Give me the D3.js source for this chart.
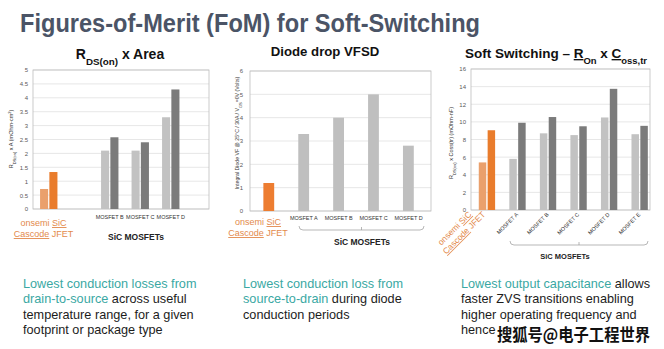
<!DOCTYPE html>
<html><head><meta charset="utf-8">
<script src="https://cdn.jsdelivr.net/npm/d3@7"></script>
<style>
html,body{margin:0;padding:0;background:#fff;}
svg{display:block;font-family:"Liberation Sans",Arial,sans-serif;}
</style></head>
<body><svg id="c" width="664" height="349"></svg>
<script>
// ---------- data ----------
const mainTitle = "Figures-of-Merit (FoM) for Soft-Switching";

const rdsCategories = ["onsemi", "MOSFET A", "MOSFET B", "MOSFET C", "MOSFET D", "MOSFET E"];
const rdsLight = [0.72, null, 2.1, 2.1, 3.3, null];
const rdsDark  = [1.33, null, 2.58, 2.4, 4.3, null];
const rdsTicks = [0, 0.5, 1, 1.5, 2, 2.5, 3, 3.5, 4, 4.5, 5];

const vfCategories = ["onsemi", "MOSFET A", "MOSFET B", "MOSFET C", "MOSFET D"];
const vfValues = [1.2, 3.3, 4.0, 5.0, 2.8];
const vfTicks = [0, 1, 2, 3, 4, 5, 6];

const ssCategories = ["onsemi", "MOSFET A", "MOSFET B", "MOSFET C", "MOSFET D", "MOSFET E"];
const ssLight = [5.4, 5.8, 8.7, 8.5, 10.5, 8.6];
const ssDark  = [9.05, 9.9, 10.55, 9.5, 13.75, 9.55];
const ssTicks = [0, 2, 4, 6, 8, 10, 12, 14, 16];

const groupLabel = "SiC MOSFETs";
const onsemiLine1 = ["onsemi ", "SiC"];
const onsemiLine2 = ["Cascode", " JFET"];

const col1Lines = [[["Lowest conduction losses from", 1]],
                   [["drain-to-source", 1], [" across useful", 0]],
                   [["temperature range, for a given", 0]],
                   [["footprint or package type", 0]]];
const col2Lines = [[["Lowest conduction loss from", 1]],
                   [["source-to-drain", 1], [" during diode", 0]],
                   [["conduction periods", 0]]];
const col3Lines = [[["Lowest output capacitance", 1], [" allows", 0]],
                   [["faster ZVS transitions enabling", 0]],
                   [["higher operating frequency and", 0]],
                   [["hence", 0]]];
const watermark = "搜狐号@电子工程世界";

// ---------- styles ----------
const C = {
  orangeL: "#eaa06c", orangeD: "#e97c2c", orange1: "#ed7d31",
  greyL: "#c2c2c2", greyD: "#7b7b7b", grey1: "#bfbfbf",
  grid: "#dcdcdc", frame: "#bdbdbd", tick: "#595959",
  label: "#e38a4c", teal: "#3aa8a3", text: "#1c1c1c", title: "#4b5466"
};

const svg = d3.select("#c");

// main title
svg.append("text").attr("x", 20).attr("y", 32)
  .attr("font-size", 26).attr("font-weight", "bold").attr("fill", C.title)
  .attr("textLength", 460).attr("lengthAdjust", "spacingAndGlyphs")
  .text(mainTitle);

function richTitle(parts, x, y, size) {
  const t = svg.append("text").attr("x", x).attr("y", y).attr("text-anchor", "middle")
    .attr("font-size", size).attr("font-weight", "bold").attr("fill", "#111");
  parts.forEach(p => {
    const s = t.append("tspan").text(p[0]);
    if (p[1] === "sub") s.attr("font-size", size * 0.7).attr("baseline-shift", "sub");
    if (p[2]) s.attr("text-decoration", "underline");
  });
  return t;
}

function drawChart(o) {
  const g = svg.append("g");
  const x = d3.scaleBand().domain(o.categories).range(o.xRange).paddingInner(0).paddingOuter(0);
  const y = d3.scaleLinear().domain(o.yDomain).range([o.bottom, o.top]);
  // grid
  g.selectAll("line.grid").data(o.ticks).join("line")
    .attr("x1", o.left).attr("x2", o.right)
    .attr("y1", d => y(d)).attr("y2", d => y(d))
    .attr("stroke", C.grid).attr("stroke-width", 0.7);
  // frame
  g.append("rect").attr("x", o.left).attr("y", o.top)
    .attr("width", o.right - o.left).attr("height", o.bottom - o.top)
    .attr("fill", "none").attr("stroke", C.frame).attr("stroke-width", 0.8);
  // y axis
  const ax = d3.axisLeft(y).tickValues(o.ticks).tickSize(0).tickPadding(o.tickPad)
    .tickFormat(d3.format("~g"));
  const ag = g.append("g").attr("transform", `translate(${o.left},0)`).call(ax);
  ag.select(".domain").remove();
  ag.selectAll("text").attr("font-size", 6).attr("fill", C.tick)
    .attr("font-family", "'Liberation Sans',Arial,sans-serif");
  // bars
  const bw = x.bandwidth();
  o.series.forEach(s => {
    g.selectAll(null).data(o.categories.map((c, i) => ({c, i, v: s.values[i]})).filter(d => d.v != null))
      .join("rect")
      .attr("x", d => x(d.c) + bw / 2 + s.offset * bw)
      .attr("width", s.width * bw)
      .attr("y", d => y(d.v)).attr("height", d => y(0) - y(d.v))
      .attr("fill", d => d.i === 0 ? s.colorOn : s.color);
  });
  // y title
  const yt = g.append("text").attr("transform", `translate(${o.yTitleX},${o.yTitleY}) rotate(-90)`)
    .attr("text-anchor", "middle").attr("font-size", o.yTitleSize || 5.5).attr("fill", "#333");
  o.yTitle.forEach(p => {
    const s = yt.append("tspan").text(p[0]);
    if (p[1] === "sub") s.attr("font-size", 4).attr("baseline-shift", "sub");
    if (p[1] === "sup") s.attr("font-size", 4).attr("baseline-shift", "super");
  });
  // category labels
  const shown = o.categories.filter((c, i) => i > 0 && o.hasData(i));
  if (o.rotate) {
    g.selectAll(null).data(shown).join("text")
      .attr("transform", d => `translate(${x(d) + bw / 2 + 1},215) rotate(-45)`)
      .attr("text-anchor", "end").attr("font-size", 5.5).attr("fill", "#333").text(d => d);
  } else {
    g.selectAll(null).data(shown).join("text")
      .attr("x", d => x(d) + bw / 2).attr("y", o.catY)
      .attr("text-anchor", "middle").attr("font-size", 5.5).attr("fill", "#333").text(d => d);
  }
  return {x, y, g, bw};
}

function onsemiLabel(g, cx, y1, y2, size) {
  const t1 = g.append("text").attr("x", cx).attr("y", y1).attr("text-anchor", "middle")
    .attr("font-size", size).attr("fill", C.label);
  t1.append("tspan").text(onsemiLine1[0]);
  t1.append("tspan").text(onsemiLine1[1]).attr("text-decoration", "underline");
  const t2 = g.append("text").attr("x", cx).attr("y", y2).attr("text-anchor", "middle")
    .attr("font-size", size).attr("fill", C.label);
  t2.append("tspan").text(onsemiLine2[0]).attr("text-decoration", "underline");
  t2.append("tspan").text(onsemiLine2[1]);
}

function bracket(g, x1, x2, yb) {
  const xm = (x1 + x2) / 2;
  g.append("path")
    .attr("d", `M${x1},${yb - 4} Q${x1},${yb} ${x1 + 4},${yb} L${x2 - 4},${yb} Q${x2},${yb} ${x2},${yb - 4} M${xm},${yb} L${xm},${yb - 3}`)
    .attr("fill", "none").attr("stroke", "#9a9a9a").attr("stroke-width", 0.7);
}

function groupText(g, cx, y, size) {
  g.append("text").attr("x", cx).attr("y", y).attr("text-anchor", "middle")
    .attr("font-size", size).attr("font-weight", "bold").attr("fill", "#222").text(groupLabel);
}

// ---------- chart 1 ----------
richTitle([["R"], ["DS(on)", "sub"], [" x Area"]], 120, 59, 14);
const c1 = drawChart({
  categories: rdsCategories, xRange: [33.5, 216.5], yDomain: [0, 5], ticks: rdsTicks,
  left: 33, right: 209, top: 70, bottom: 209, tickPad: 5,
  series: [
    {values: rdsLight, offset: -0.285, width: 0.265, color: C.greyL, colorOn: C.orangeL},
    {values: rdsDark, offset: 0.02, width: 0.265, color: C.greyD, colorOn: C.orangeD}
  ],
  hasData: i => rdsLight[i] != null, catY: 219,
  yTitle: [["R"], ["DS(on)", "sub"], [" x A (mOhm-cm"], ["2", "sup"], [")"]],
  yTitleX: 13, yTitleY: 139
});
onsemiLabel(c1.g, 43.5, 226, 237, 9);
groupText(c1.g, 136, 240, 8.5);

// ---------- chart 2 ----------
richTitle([["Diode drop VFSD"]], 325, 56, 13.2);
const c2 = drawChart({
  categories: vfCategories, xRange: [251.5, 426], yDomain: [0, 6], ticks: vfTicks,
  left: 250, right: 431, top: 71, bottom: 211, tickPad: 7,
  series: [
    {values: vfValues, offset: -0.16, width: 0.31, color: C.grey1, colorOn: C.orange1}
  ],
  hasData: i => vfValues[i] != null, catY: 220,
  yTitle: [["Integral Diode VF @ 25°C / 30A / V"], ["GS", "sub"], ["=0V (Volts)"]],
  yTitleX: 239, yTitleY: 133, yTitleSize: 5.2
});
onsemiLabel(c2.g, 258, 225, 236, 9);
bracket(c2.g, 299, 424, 230);
groupText(c2.g, 362, 245, 8.5);

// ---------- chart 3 ----------
richTitle([["Soft Switching – "], ["R", null, true], ["On", "sub"], [" x "], ["C", null, true], ["oss,tr", "sub"]], 556, 58, 13.5);
const c3 = drawChart({
  categories: ssCategories, xRange: [471.75, 655], yDomain: [0, 16], ticks: ssTicks,
  left: 471, right: 650, top: 69, bottom: 210, tickPad: 5,
  series: [
    {values: ssLight, offset: -0.27, width: 0.245, color: C.greyL, colorOn: C.orangeL},
    {values: ssDark, offset: 0.02, width: 0.245, color: C.greyD, colorOn: C.orangeD}
  ],
  hasData: i => ssLight[i] != null, rotate: true,
  yTitle: [["R"], ["DS(on)", "sub"], [" x Coss(tr)  (mOhm-nF)"]],
  yTitleX: 453, yTitleY: 143
});
{
  const t1 = c3.g.append("text").attr("transform", "translate(472,215) rotate(-45)")
    .attr("text-anchor", "end").attr("font-size", 8.5).attr("fill", C.label);
  t1.append("tspan").text(onsemiLine1[0]);
  t1.append("tspan").text(onsemiLine1[1]).attr("text-decoration", "underline");
  const t2 = c3.g.append("text").attr("transform", "translate(486,215) rotate(-45)")
    .attr("text-anchor", "end").attr("font-size", 8.5).attr("fill", C.label);
  t2.append("tspan").text(onsemiLine2[0]).attr("text-decoration", "underline");
  t2.append("tspan").text(onsemiLine2[1]);
}
bracket(c3.g, 510, 648, 245);
groupText(c3.g, 565, 259, 7.5);

// ---------- bottom text ----------
function column(lines, x, y0, dy) {
  lines.forEach((ln, i) => {
    const t = svg.append("text").attr("x", x).attr("y", y0 + i * dy).attr("font-size", 12.7);
    ln.forEach(p => t.append("tspan").text(p[0]).attr("fill", p[1] ? C.teal : C.text));
  });
}
column(col1Lines, 23, 288, 15.3);
column(col2Lines, 243, 288, 15.3);
column(col3Lines, 461, 288, 15.3);

svg.append("text").attr("x", 497).attr("y", 341).attr("font-size", 16.5)
  .attr("font-family", "'Noto Sans CJK SC',sans-serif").attr("font-weight", "bold")
  .attr("fill", "#111").attr("stroke", "#fff").attr("stroke-width", 2.5)
  .attr("paint-order", "stroke").attr("textLength", 153).attr("lengthAdjust", "spacingAndGlyphs")
  .text(watermark);
</script></body></html>
